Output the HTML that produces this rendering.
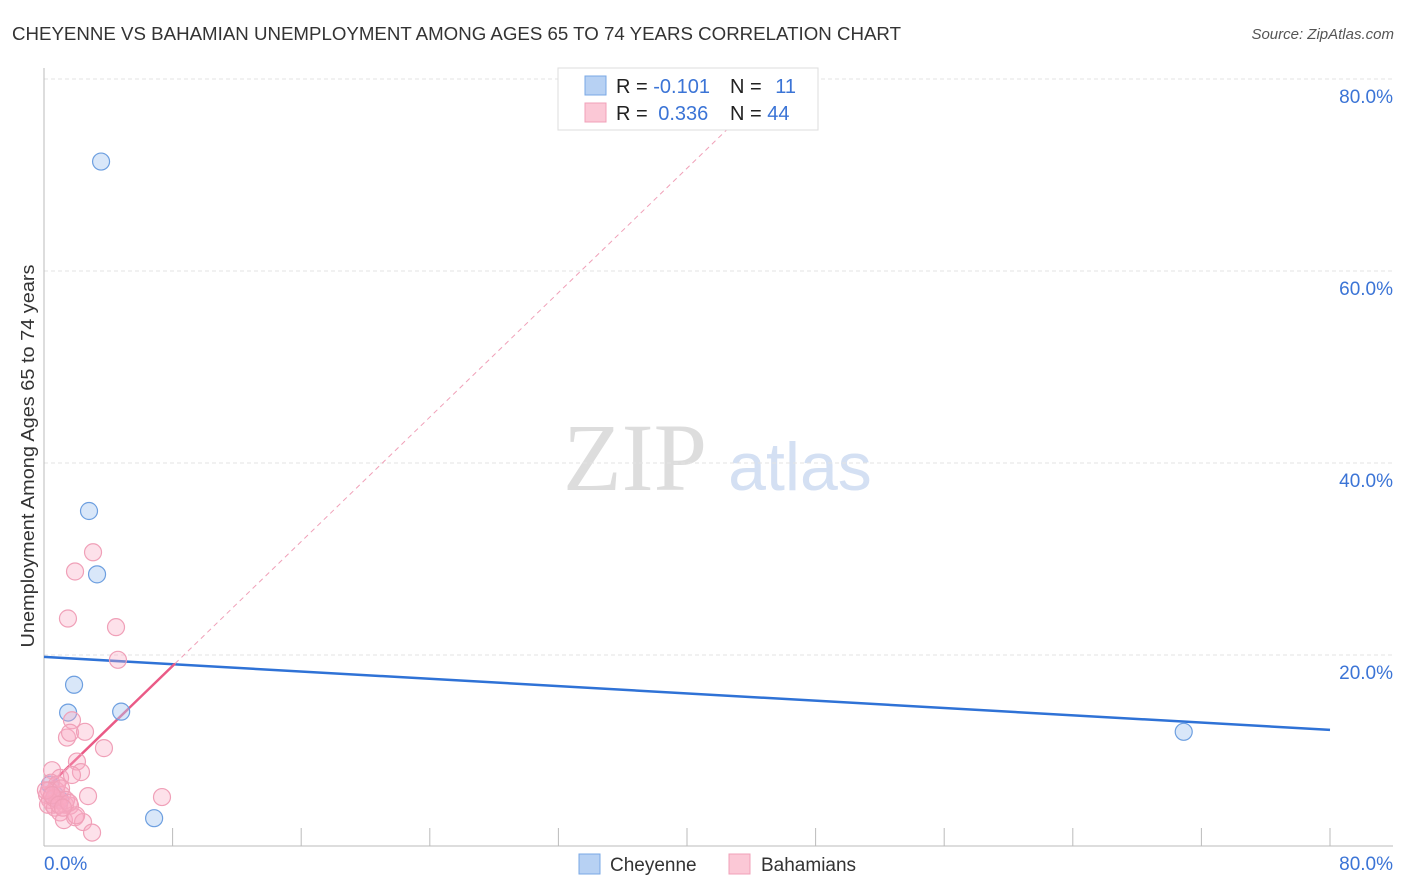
<!DOCTYPE html>
<html><head><meta charset="utf-8"><style>
body{margin:0;background:#fff;font-family:"Liberation Sans",sans-serif;}
svg{display:block}
</style></head><body>
<svg id="chart" width="1406" height="892" xmlns="http://www.w3.org/2000/svg" font-family="Liberation Sans, sans-serif">
<text x="12" y="40" font-size="18" fill="#333" textLength="889" lengthAdjust="spacingAndGlyphs">CHEYENNE VS BAHAMIAN UNEMPLOYMENT AMONG AGES 65 TO 74 YEARS CORRELATION CHART</text>
<text x="1394" y="39" font-size="15" fill="#555" text-anchor="end" font-style="italic">Source: ZipAtlas.com</text>
<g>
<text x="635" y="490" font-size="96" fill="#ddd" font-family="Liberation Serif, serif" text-anchor="middle">ZIP</text>
<text x="800" y="490" font-size="68" fill="#d4e0f3" text-anchor="middle">atlas</text>
</g>
<text transform="translate(34,456) rotate(-90)" font-size="18" fill="#333" text-anchor="middle" textLength="383" lengthAdjust="spacingAndGlyphs">Unemployment Among Ages 65 to 74 years</text>
<g id="grid"></g>
<g id="axes"></g>
<g id="lines"></g>
<g id="points"></g>
<g>
<rect x="558" y="68" width="260" height="62" fill="#fff" stroke="#ddd"/>
<rect x="585" y="76" width="21" height="19" fill="#b7d1f3" stroke="#7aa8e6"/>
<rect x="585" y="103" width="21" height="19" fill="#fbc8d6" stroke="#f0a0b8"/>
<text x="616" y="93" font-size="20" fill="#222">R = <tspan fill="#3b74d6">-0.101</tspan></text>
<text x="730" y="93" font-size="20" fill="#222">N = <tspan fill="#3b74d6" dx="8">11</tspan></text>
<text x="616" y="120" font-size="20" fill="#222">R = <tspan fill="#3b74d6" dx="5">0.336</tspan></text>
<text x="730" y="120" font-size="20" fill="#222">N = <tspan fill="#3b74d6">44</tspan></text>
</g>
<g>
<rect x="579" y="854" width="21" height="20" fill="#b7d1f3" stroke="#7aa8e6"/>
<text x="610" y="871" font-size="19" fill="#333">Cheyenne</text>
<rect x="729" y="854" width="21" height="20" fill="#fbc8d6" stroke="#f0a0b8"/>
<text x="761" y="871" font-size="19" fill="#333">Bahamians</text>
</g>
</svg>
<script>
const yTicks=[20,40,60,80];
const xTicks=[0,8,16,24,32,40,48,56,64,72,80];
const cheyX=[3.55,2.8,3.3,1.87,1.5,4.8,6.85,70.9,0.37,0.7,1.0];
const cheyY=[71.4,35.0,28.4,16.9,14.0,14.1,3.0,12.0,6.5,5.4,4.9];
const bahX=[3.05,1.93,1.49,4.48,4.6,1.74,1.43,1.62,2.55,3.73,0.5,2.05,2.3,1.0,1.74,0.44,0.75,0.19,0.37,0.56,0.87,1.12,0.25,0.68,1.31,1.62,2.74,7.34,1.0,1.24,1.93,2.43,2.99,0.81,0.31,0.62,1.06,1.37,0.12,0.5,0.93,1.56,2.0,1.18];
const bahY=[30.7,28.7,23.8,22.9,19.5,13.2,11.4,11.9,12.0,10.3,8.0,8.9,7.8,7.2,7.5,6.7,5.9,5.4,4.9,4.4,4.9,5.4,4.4,4.1,4.4,4.3,5.3,5.2,3.6,2.8,3.1,2.6,1.5,6.5,5.9,5.1,6.1,4.9,5.9,5.4,4.4,4.6,3.3,4.1];
const cheyFit=[19.8,-0.095];
const bahFit=[5.9,1.62];
const NS="http://www.w3.org/2000/svg";
const sx=v=>44+v*(1286/80);
const sy=v=>847-v*9.6;
function mk(tag,attrs,parent){const e=document.createElementNS(NS,tag);for(const k in attrs)e.setAttribute(k,attrs[k]);parent.appendChild(e);return e;}
const grid=document.getElementById('grid'),axes=document.getElementById('axes'),lines=document.getElementById('lines'),pts=document.getElementById('points');
yTicks.forEach(t=>{
 const l=mk('line',{x1:44,x2:1393,y1:sy(t),y2:sy(t),stroke:'#e3e3e3','stroke-dasharray':'4,3'},grid);
 
 
 const tx=mk('text',{x:1393,y:sy(t)+24,'font-size':19,fill:'#3b74d6','text-anchor':'end'},axes);
 tx.textContent=t.toFixed(1)+'%';
 
 
});
const ya=mk('line',{x1:44,x2:44,y1:68,y2:846,stroke:'#bbb'},axes);


const xa=mk('line',{x1:44,x2:1393,y1:846,y2:846,stroke:'#bbb'},axes);


xTicks.forEach(t=>{
 const l=mk('line',{x1:sx(t),x2:sx(t),y1:828,y2:846,stroke:'#bbb'},axes);
 
 
});
[[0,'start',44],[80,'end',1393]].forEach(([v,a,x])=>{
 const tx=mk('text',{x:x,y:870,'font-size':19,fill:'#3b74d6','text-anchor':a},axes);
 tx.textContent=v.toFixed(1)+'%';
 
 
});
cheyX.forEach((x,i)=>{
 const c=mk('circle',{cx:sx(x),cy:sy(cheyY[i]),r:8.5,fill:'rgba(170,202,242,0.45)',stroke:'#6d9fe0','stroke-width':1.2},pts);
 
 
});
bahX.forEach((x,i)=>{
 const c=mk('circle',{cx:sx(x),cy:sy(bahY[i]),r:8.5,fill:'rgba(248,170,195,0.35)',stroke:'#f0a0b8','stroke-width':1.2},pts);
 
 
});
const bl=mk('line',{x1:sx(0),y1:sy(cheyFit[0]),x2:sx(80),y2:sy(cheyFit[0]+cheyFit[1]*80),stroke:'#2f72d6','stroke-width':2.5},lines);


const xEnd=8.15, xTop=(80-bahFit[0])/bahFit[1];
const pd=mk('line',{x1:sx(xEnd),y1:sy(bahFit[0]+bahFit[1]*xEnd),x2:sx(xTop),y2:sy(80),stroke:'#f0a0b8','stroke-width':1,'stroke-dasharray':'5,4'},lines);


const pl=mk('line',{x1:sx(0),y1:sy(bahFit[0]),x2:sx(xEnd),y2:sy(bahFit[0]+bahFit[1]*xEnd),stroke:'#ea5a86','stroke-width':2.5},lines);


</script>
</body></html>
